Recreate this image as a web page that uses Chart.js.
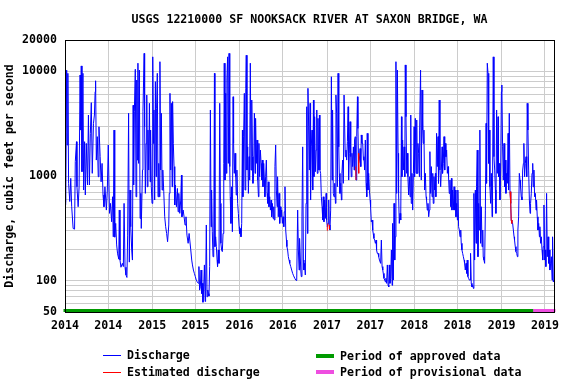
<!DOCTYPE html>
<html><head><meta charset="utf-8">
<script src="https://cdn.jsdelivr.net/npm/chart.js@4.4.1/dist/chart.umd.min.js"></script>
<style>html,body{margin:0;padding:0;background:#fff}canvas{display:block}</style>
</head><body>
<canvas id="c" width="576" height="384"></canvas>
<script>
const chartTitle = 'USGS 12210000 SF NOOKSACK RIVER AT SAXON BRIDGE, WA';
const yAxisTitle = 'Discharge, cubic feet per second';

// days since 2014-01-01
const days = [
0,1,4,7,9,12,15,20,24,28,
34,40,43,48,50,55,59,63,66,68,
71,75,78,82,85,89,94,98,102,106,
110,114,119,123,126,128,131,135,139,142,
147,151,155,159,163,167,173,177,181,186,
190,195,199,202,205,208,212,216,220,225,
227,230,234,240,244,247,251,255,259,262,
266,269,272,275,279,282,285,287,290,294,
297,300,303,305,308,311,314,317,319,324,
326,331,333,336,339,342,344,347,350,353,
356,358,361,364,367,370,372,375,378,381,
383,386,389,392,395,397,400,403,406,409,
413,417,421,425,429,434,436,439,442,445,
448,450,453,456,459,461,466,470,473,476,
480,484,487,489,494,498,502,506,510,515,
519,
526,530,533,537,541,545,549,553,558,560,
563,566,569,572,574,577,580,583,586,588,
591,594,597,600,602,605,608,611,613,616,
619,622,625,627,630,633,636,638,641,644,
647,650,652,655,658,661,664,666,669,672,
675,677,680,683,686,689,691,694,697,700,
703,705,708,711,714,716,719,722,725,728,
730,733,736,739,742,744,747,750,753,756,
758,761,764,767,770,772,775,778,781,784,
786,789,792,795,797,800,803,806,809,811,
814,817,820,823,825,828,831,834,836,839,
842,845,848,850,853,856,859,862,864,867,
870,873,875,878,881,884,887,889,892,895,
898,901,903,906,909,912,915,917,920,923,
926,928,931,934,937,940,944,948,952,956,
961,965,969,973,976,979,
981,986,988,991,994,997,999,1002,1005,1008,
1011,1014,1016,1019,1022,1025,1027,1030,1033,1036,
1039,1041,1044,1047,1050,1053,1055,1058,1061,1064,
1066,1069,1072,1075,1078,1080,1083,1086,1089,1092,
1094,1097,1100,1103,1105,1108,1111,1114,1117,1119,
1122,1125,1128,1131,1133,1136,1139,1142,1145,1147,
1150,1153,1156,1158,1161,1164,1167,1170,1172,1175,
1178,1181,1184,1186,1189,1192,1195,1197,1200,1203,
1206,1209,1211,1214,1217,1220,1223,1225,1228,1231,
1234,1237,1239,1242,1245,1248,1250,1253,1256,1259,
1262,1264,1267,1270,1273,1276,1278,1281,1284,1287,
1289,1292,1295,1298,1301,1303,1306,1309,1312,1315,
1317,1320,1323,1326,1329,1331,1334,1337,1340,1342,
1345,1348,1351,1354,1356,1359,1362,1365,1368,1370,
1373,1376,1379,1381,1384,1387,1390,1393,1395,1398,
1401,1404,1407,1409,1412,1415,1418,1421,1423,1426,
1429,1432,1434,1437,1440,1443,1446,1448,1451,1454,
1457,1460,1462,1465,1468,1471,1473,1476,1479,1482,
1483,1487,1490,1493,1496,1498,1501,1504,1507,1510,
1512,1515,1518,1521,1524,1526,1529,1532,1535,1538,
1540,1543,1546,1549,1551,1554,1557,1560,1562,1565,
1568,1571,1574,1577,1579,1582,1585,1588,1590,1593,
1596,1599,1602,1604,1607,1610,1613,1616,1618,1621,
1624,1627,1630,1632,1635,1638,1641,1643,1646,1649,
1652,1655,1657,1660,1663,1666,1669,1671,1674,1677,
1680,1682,1685,1688,1691,1694,1696,1699,1702,1705,
1708,1710,1713,1716,1719,1721,1724,1727,1730,1733,
1735,1738,1741,1744,1747,1749,1752,1755,1758,1761,
1763,1766,1769,1772,1774,1777,1780,1783,1786,1788,
1791,1794,1797,1800,1802,1805,1808,1811,1813,1816,
1819,1822,1825,1827,1830,1833,1836,1839,1841,1844,
1847,1850,1853,1855,1858,1861,1864,1866,1869,1872,
1875,1878,1880,1883,1886,1889,1892,1894,1897,1900,
1903,1905,1908,1911,1914,1917,1919,1922,1925,1928,
1931,1933,1936,1939,1942,1945,1947,1950,1953,1956,
1958,1961,1964,1967,1970,1972,1975,1978,1981,1984,
1986,1989,1992,1995,1998,2000,2003,2006,2009,2011,
2014,2017,2020,2023,2025,2028,2031,2034,2037,2039,
2042,2045
];

// discharge, cubic feet per second
const discharge = [
2560,530,560,10300,1980,9600,851,570,950,508,
315,310,1370,2130,789,508,789,9250,2750,11300,
1100,9600,734,2130,658,2050,820,3830,820,2560,
5030,1060,3190,3830,6400,8150,1420,2380,984,2960,
1530,880,1320,658,508,789,472,734,1980,439,
547,365,633,262,2750,260,352,219,180,160,
472,157,134,146,136,547,134,113,107,272,
3980,150,734,327,196,157,4750,820,4120,10500,
633,8280,1420,12000,1320,10300,393,682,315,1140,
4120,14900,2960,682,2050,5950,789,2750,1140,4960,
880,2750,789,547,13800,2050,4280,589,8000,984,
4440,9600,633,1320,633,12400,1140,3980,734,1140,
708,407,327,282,235,340,682,6180,1140,4960,
789,5150,2050,1230,528,820,508,760,455,682,
439,589,1020,407,472,407,340,407,272,227,
282,
196,157,141,126,117,109,101,97,94,136,
81,87,126,75,94,62,87,141,63,81,
340,70,81,75,71,136,4280,327,734,293,
169,196,9600,211,262,211,157,136,196,146,
4960,547,227,196,189,282,1320,12000,915,6180,
1060,8280,13800,1320,14900,1230,633,352,789,293,
5730,2050,1060,1650,984,658,1140,547,439,327,
282,315,262,352,2750,633,2380,6180,734,6900,
14300,1140,1900,682,1530,915,12000,1140,5330,1530,
851,1060,3980,1060,3560,1320,2210,915,633,2050,
984,1770,1320,915,1420,789,1320,915,633,984,
1420,682,547,880,508,633,472,589,407,547,
393,508,379,1230,1980,734,508,984,407,682,
352,508,407,472,352,407,327,455,789,304,
244,211,196,169,157,146,136,126,117,111,
105,101,100,472,196,126,
253,126,109,407,1900,157,126,146,113,547,
4600,282,6900,2960,1140,4960,589,1900,2750,734,
5330,984,3690,1100,1770,4280,1060,3560,1140,3830,
1140,1060,633,508,379,633,365,589,393,682,
379,327,352,589,340,304,472,8900,915,4280,
682,633,851,547,5950,3980,789,9600,1900,1060,
682,851,589,1060,1420,851,5950,5950,1530,1770,
1420,2130,4600,915,1650,3310,1530,984,1650,1230,
1900,1140,2210,2380,915,2380,5730,2850,1320,1420,
1830,1230,2470,2050,2050,1420,1530,1140,2210,851,
633,2560,734,1060,734,589,508,365,379,304,
282,253,244,227,244,196,182,182,169,157,
157,146,244,136,126,117,105,101,97,105,
94,141,90,87,141,94,105,196,90,352,
101,547,157,262,12400,682,10300,1650,682,352,
439,379,3690,984,2210,1140,1900,984,11550,3690,
1060,1650,984,658,984,633,3830,547,1060,472,
1060,2960,984,3560,1060,3430,1060,2050,1650,984,
2750,10300,915,6650,2750,2050,2750,734,1060,633,
589,472,547,407,472,1710,682,1230,633,1060,
547,984,734,1060,633,2560,1230,2380,851,5330,
1140,789,1140,1900,1060,1320,2380,1140,2050,1530,
1770,1060,1230,984,682,915,508,950,472,734,
472,789,472,734,407,547,379,734,327,304,
262,304,227,196,182,169,157,146,126,146,
117,157,109,105,101,101,182,94,87,90,
84,682,157,734,227,789,1770,169,547,304,
2750,227,508,211,304,169,157,146,472,3190,
851,12000,9600,1320,2750,789,547,1060,407,734,
13800,1530,1140,734,439,4280,1060,3690,984,1320,
589,1140,6400,7420,1900,915,2050,789,1420,682,
1060,851,2560,734,3980,708,547,379,352,352,
304,262,244,211,189,182,169,304,407,1060,
915,789,633,589,1140,1320,2050,984,1320,1530,
984,4960,2750,1140,589,439,547,682,1060,1320,
789,1140,633,682,472,589,407,304,352,262,
327,227,262,196,157,211,528,157,196,136,
682,169,262,146,196,126,146,169,101,262,
97,101
];

// estimated discharge segments (null = break)
const estDays      = [1096,1097,1100,1102,1105,1106,1150,1216,1217,1222,1227,1228,1229,1500,1861,1864,1866,1869];
const estDischarge = [300, 327, 352, null,340, 310, null,1230,915, null,1650,1320,1060,null,708, 547, 379, 352];

// data-status periods (days since 2014-01-01)
const approvedPeriod    = [0, 1964];
const provisionalPeriod = [1964, 2045];

// axis ticks
const xTickDays   = [0,181,365,546,730,911,1096,1277,1461,1642,1826,2007];
const xTickLabels = ['2014','2014','2015','2015','2016','2016','2017','2017','2018','2018','2019','2019'];
const yGridValues = [50,60,70,80,90,100,200,300,400,500,600,700,800,900,
  1000,2000,3000,4000,5000,6000,7000,8000,9000,10000,20000];
const yTickLabels = [50,100,1000,10000,20000];

// ---- build ----
const FONT = {family: "'DejaVu Sans Mono', monospace", size: 11.6, weight: 'bold'};
const FONT_CSS = "bold 11.6px 'DejaVu Sans Mono', monospace";
const X_MIN = 0, X_MAX = 2045, Y_MIN = 50, Y_MAX = 20000;
const PERIOD_LEVEL = 51.7;

Chart.defaults.font = FONT;
Chart.defaults.color = '#000';

const dischargeData = days.map((d, i) => ({x: d, y: discharge[i]}));
const estData = estDays.map((d, i) => ({x: d, y: estDischarge[i]}));
const approvedData = approvedPeriod.map(d => ({x: d, y: PERIOD_LEVEL}));
const provisionalData = provisionalPeriod.map(d => ({x: d, y: PERIOD_LEVEL}));

const framePlugin = {
  id: 'frame',
  afterDatasetsDraw(chart) {
    const {ctx, chartArea: a} = chart;
    ctx.save();
    ctx.strokeStyle = '#000';
    ctx.lineWidth = 1;
    const l = Math.round(a.left) + 0.5, t = Math.round(a.top) + 0.5;
    const r = Math.round(a.right) + 0.5, b = Math.round(a.bottom) + 0.5;
    ctx.strokeRect(l, t, r - l, b - t);
    ctx.restore();
  }
};

const legendPlugin = {
  id: 'usgsLegend',
  afterDraw(chart, args, opts) {
    const ctx = chart.ctx;
    ctx.save();
    ctx.font = FONT_CSS;
    ctx.textBaseline = 'middle';
    ctx.textAlign = 'left';
    chart.data.datasets.forEach((ds, i) => {
      const s = opts.slots[i];
      if (!s) return;
      ctx.strokeStyle = ds.borderColor;
      ctx.lineWidth = ds.legendLineWidth || 1;
      ctx.beginPath();
      ctx.moveTo(s.x, s.y);
      ctx.lineTo(s.x + opts.sampleLength, s.y);
      ctx.stroke();
      ctx.fillStyle = '#000';
      ctx.fillText(ds.label, s.x + opts.sampleLength + opts.gap, s.y + 0.5);
    });
    ctx.restore();
  }
};

new Chart(document.getElementById('c'), {
  type: 'line',
  data: {
    datasets: [
      {label: 'Discharge', data: dischargeData, borderColor: '#0000ff', borderWidth: 1,
       pointRadius: 0, tension: 0, borderJoinStyle: 'round', order: 3},
      {label: 'Estimated discharge', data: estData, borderColor: '#ff0000', borderWidth: 1,
       pointRadius: 0, tension: 0, spanGaps: false, borderJoinStyle: 'round', order: 2},
      {label: 'Period of approved data', data: approvedData, borderColor: '#009a00', borderWidth: 3,
       legendLineWidth: 4, pointRadius: 0, borderCapStyle: 'square', clip: false, order: 1},
      {label: 'Period of provisional data', data: provisionalData, borderColor: '#ee4ee0', borderWidth: 3,
       legendLineWidth: 4, pointRadius: 0, borderCapStyle: 'square', clip: false, order: 0}
    ]
  },
  options: {
    responsive: false,
    animation: false,
    devicePixelRatio: 1,
    events: [],
    layout: {padding: {left: 0, right: 22, top: 0, bottom: 0}},
    plugins: {
      legend: {display: false},
      tooltip: {enabled: false},
      title: {display: true, text: chartTitle, fullSize: false, color: '#000',
              font: FONT, padding: {top: 13, bottom: 13.08}},
      usgsLegend: {
        sampleLength: 18, gap: 6,
        slots: [{x: 103, y: 355.5}, {x: 103, y: 372.5}, {x: 316, y: 356}, {x: 316, y: 372}]
      }
    },
    scales: {
      x: {
        type: 'linear', min: X_MIN, max: X_MAX,
        grid: {color: '#cccccc', drawTicks: false, lineWidth: 1},
        border: {display: false},
        ticks: {padding: 7, autoSkip: false, maxRotation: 0, color: '#000',
                callback: (v, i) => xTickLabels[i]},
        afterBuildTicks: s => { s.ticks = xTickDays.map(v => ({value: v})); },
        afterFit: s => { s.height = 72; }
      },
      y: {
        type: 'logarithmic', min: Y_MIN, max: Y_MAX,
        grid: {color: '#cccccc', drawTicks: false, lineWidth: 1},
        border: {display: false},
        ticks: {padding: 8, autoSkip: false, color: '#000',
                callback: v => yTickLabels.includes(v) ? String(v) : ''},
        afterBuildTicks: s => { s.ticks = yGridValues.map(v => ({value: v})); },
        afterFit: s => { s.width = 65; },
        title: {display: true, text: yAxisTitle, color: '#000', font: FONT,
                padding: {top: 3, bottom: 0}}
      }
    }
  },
  plugins: [framePlugin, legendPlugin]
});
</script>
</body></html>
